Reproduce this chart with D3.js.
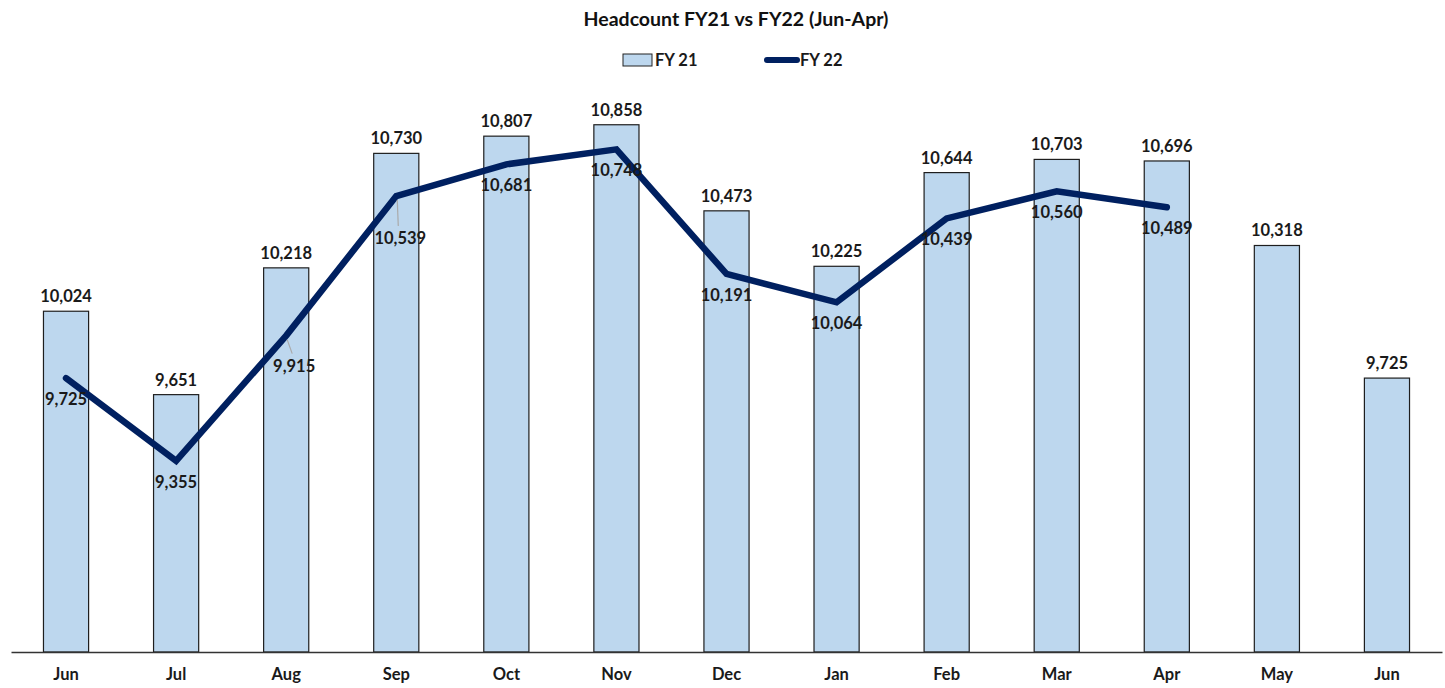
<!DOCTYPE html>
<html lang="en">
<head>
<meta charset="utf-8">
<title>Headcount FY21 vs FY22</title>
<script src="https://cdn.jsdelivr.net/npm/d3@7/dist/d3.min.js"></script>
<style>
  html,body{margin:0;padding:0;background:#fff}
  svg{display:block;font-family:Lato,"Open Sans",sans-serif}
  .lbl{font-size:16.5px;font-weight:700;fill:#1a1a1a}
</style>
</head>
<body>
<div id="chart"></div>
<script>
// data
var months = ["Jun","Jul","Aug","Sep","Oct","Nov","Dec","Jan","Feb","Mar","Apr","May","Jun"];
var fy21 = [10024, 9651, 10218, 10730, 10807, 10858, 10473, 10225, 10644, 10703, 10696, 10318, 9725];
var fy22 = [9725, 9355, 9915, 10539, 10681, 10748, 10191, 10064, 10439, 10560, 10489];
var yDomain = [8500, 11000];

var W = 1445, H = 688;
var plot = {left: 11, right: 1442, top: 93, bottom: 652};
var barColor = "#BDD7EE", lineColor = "#002060";
// labels that Excel pushed aside with a leader line (index -> extra drop)
var leaderNudge = {2: {dx: 6, dy: 9}, 3: {dx: 2, dy: 21}};

var fmt = d3.format(",");
var keys = months.map(function(m, i){ return i; });

var x = d3.scaleBand().domain(keys).range([plot.left, plot.right]).paddingInner(0.59).paddingOuter(0.295);
var y = d3.scaleLinear().domain(yDomain).range([plot.bottom, plot.top]);

var svg = d3.select("#chart").append("svg").attr("width", W).attr("height", H);

// title
svg.append("text")
    .attr("x", 736).attr("y", 26)
    .attr("text-anchor", "middle")
    .style("font-size", "19.5px").style("font-weight", 700).attr("fill", "#111")
    .text("Headcount FY21 vs FY22 (Jun-Apr)");

// legend
var lg = svg.append("g");
lg.append("rect").attr("x", 623).attr("y", 54).attr("width", 29).attr("height", 12)
    .attr("fill", barColor).attr("stroke", "#222").attr("stroke-width", 1);
lg.append("text").attr("x", 655).attr("y", 66).attr("class", "lbl").text("FY 21");
lg.append("line").attr("x1", 767).attr("x2", 797).attr("y1", 60).attr("y2", 60)
    .attr("stroke", lineColor).attr("stroke-width", 6).attr("stroke-linecap", "round");
lg.append("text").attr("x", 800).attr("y", 66).attr("class", "lbl").text("FY 22");

// bars
svg.append("g").selectAll("rect").data(fy21).join("rect")
    .attr("x", function(d, i){ return x(i); })
    .attr("y", function(d){ return y(d); })
    .attr("width", x.bandwidth())
    .attr("height", function(d){ return y(yDomain[0]) - y(d); })
    .attr("fill", barColor).attr("stroke", "#1e1e1e").attr("stroke-width", 1.2);

// x axis
var xAxis = d3.axisBottom(x).tickSize(0).tickPadding(16).tickFormat(function(i){ return months[i]; });
var ax = svg.append("g").attr("transform", "translate(0," + plot.bottom + ")").call(xAxis);
ax.select(".domain").attr("stroke", "#333").attr("stroke-width", 1.4);
ax.selectAll("text").attr("class", "lbl").style("font-family", "Lato,'Open Sans',sans-serif");

// bar labels
svg.append("g").selectAll("text").data(fy21).join("text")
    .attr("class", "lbl").attr("text-anchor", "middle")
    .attr("x", function(d, i){ return x(i) + x.bandwidth() / 2; })
    .attr("y", function(d){ return y(d) - 9; })
    .text(fmt);

// FY22 line
var cx = function(i){ return x(i) + x.bandwidth() / 2; };
var line = d3.line().x(function(d, i){ return cx(i); }).y(function(d){ return y(d); });
svg.append("path").datum(fy22)
    .attr("d", line).attr("fill", "none")
    .attr("stroke", lineColor).attr("stroke-width", 6.5)
    .attr("stroke-linejoin", "miter").attr("stroke-linecap", "round");

// leader lines
var lead = svg.append("g");
fy22.forEach(function(d, i){
    var n = leaderNudge[i];
    if (!n) return;
    lead.append("line")
        .attr("x1", cx(i) + 1).attr("y1", y(d) + 4)
        .attr("x2", cx(i) + n.dx).attr("y2", y(d) + 9 + n.dy)
        .attr("stroke", "#aaa").attr("stroke-width", 1.2);
});

// line labels
svg.append("g").selectAll("text").data(fy22).join("text")
    .attr("class", "lbl").attr("text-anchor", "middle")
    .attr("x", function(d, i){ var n = leaderNudge[i]; return cx(i) + (n ? n.dx + 2 : 0); })
    .attr("y", function(d, i){ var n = leaderNudge[i]; return y(d) + 27 + (n ? n.dy : 0); })
    .text(fmt);
</script>
</body>
</html>
